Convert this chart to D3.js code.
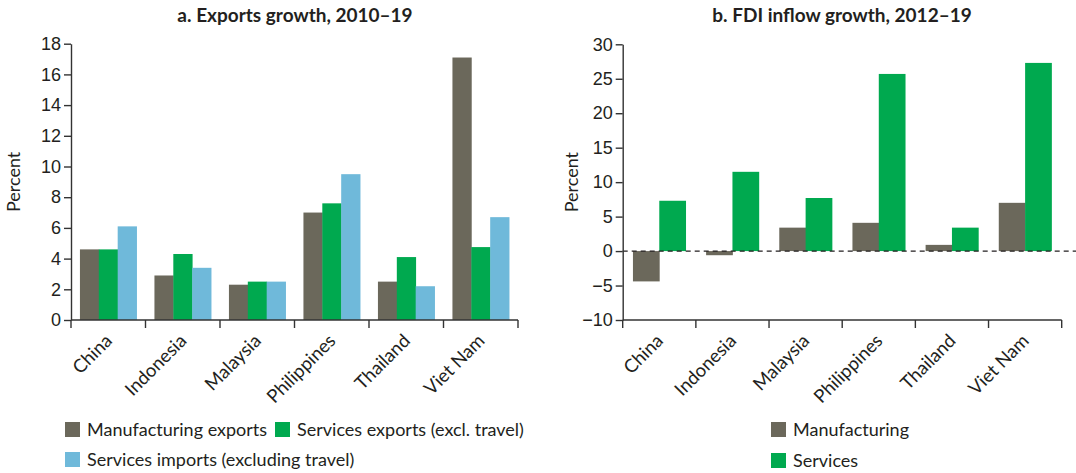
<!DOCTYPE html>
<html>
<head>
<meta charset="utf-8">
<script src="https://cdn.jsdelivr.net/npm/d3@7"></script>
<style>
  html, body { margin: 0; padding: 0; background: #fff; }
  svg { display: block; font-family: Lato, "Noto Sans", sans-serif; }
  .axis path, .axis line { stroke: #333; stroke-width: 1.4; }
  .axis text { fill: #231f20; font-size: 18px; }
  .axis text.cat { font-size: 18.5px; }
</style>
</head>
<body>
<svg id="chart" width="1076" height="473"></svg>
<script>
// Countries shown in both panels
const categories = ["China", "Indonesia", "Malaysia", "Philippines", "Thailand", "Viet Nam"];

// Panel a: exports growth, 2010–19 (percent)
const exportSeries = ["Manufacturing exports", "Services exports (excl. travel)", "Services imports (excluding travel)"];
const manufacturingExports = [4.6, 2.9, 2.3, 7.0, 2.5, 17.1];
const servicesExports = [4.6, 4.3, 2.5, 7.6, 4.1, 4.75];
const servicesImports = [6.1, 3.4, 2.5, 9.5, 2.2, 6.7];
const exportTicks = [0, 2, 4, 6, 8, 10, 12, 14, 16, 18];

// Panel b: FDI inflow growth, 2012–19 (percent)
const fdiSeries = ["Manufacturing", "Services"];
const fdiManufacturing = [-4.4, -0.6, 3.4, 4.1, 0.9, 7.0];
const fdiServices = [7.3, 11.5, 7.7, 25.7, 3.4, 27.3];
const fdiTicks = [-10, -5, 0, 5, 10, 15, 20, 25, 30];

const colors = { gray: "#6b685b", green: "#00a94f", blue: "#6fb9da" };

const svg = d3.select("#chart");

function panel(opts) {
  const g = svg.append("g");
  const x0 = d3.scaleBand().domain(categories).range([opts.left, opts.right]).padding(0);
  const x1 = d3.scaleBand().domain(opts.series)
    .range([x0.bandwidth() * opts.groupPad, x0.bandwidth() * (1 - opts.groupPad)]);
  const y = d3.scaleLinear().domain(opts.domain).range([opts.bottom, opts.top]);

  // bars
  opts.series.forEach((s, si) => {
    g.append("g").selectAll("rect")
      .data(opts.values[si])
      .join("rect")
      .attr("x", (d, i) => x0(categories[i]) + x1(s))
      .attr("width", x1.bandwidth() + 0.4)
      .attr("y", d => y(Math.max(0, d)))
      .attr("height", d => Math.abs(y(d) - y(0)))
      .attr("fill", opts.colors[si]);
  });

  // dashed zero line
  if (opts.domain[0] < 0) {
    g.append("line")
      .attr("x1", opts.left).attr("x2", 1076)
      .attr("y1", y(0)).attr("y2", y(0))
      .attr("stroke", "#231f20").attr("stroke-width", 1.3)
      .attr("stroke-dasharray", "5,4");
  }

  // y axis
  g.append("g").attr("class", "axis")
    .attr("transform", `translate(${opts.left},0)`)
    .call(d3.axisLeft(y).tickValues(opts.ticks).tickSize(7).tickSizeOuter(0).tickPadding(3)
      .tickFormat(d => d < 0 ? "\u2212" + Math.abs(d) : d));

  // x axis: line along the bottom, ticks at the band boundaries
  const xa = g.append("g").attr("class", "axis");
  xa.append("line")
    .attr("x1", opts.left).attr("x2", opts.right)
    .attr("y1", opts.bottom).attr("y2", opts.bottom);
  const bounds = categories.map(c => x0(c)).concat([x0.range()[1]]);
  xa.selectAll("line.tick").data(bounds).join("line")
    .attr("class", "tick")
    .attr("x1", d => d).attr("x2", d => d)
    .attr("y1", opts.bottom).attr("y2", opts.bottom + 8);
  xa.selectAll("text").data(categories).join("text")
    .attr("class", "cat")
    .attr("text-anchor", "end")
    .attr("transform", d => `translate(${x0(d) + x0.bandwidth() / 2 + 5},${opts.bottom + 22}) rotate(-45)`)
    .text(d => d);

  // y label
  g.append("text")
    .attr("transform", `translate(${opts.ylabelX},${(opts.top + opts.bottom) / 2}) rotate(-90)`)
    .attr("text-anchor", "middle")
    .attr("font-size", 18).attr("fill", "#231f20")
    .text("Percent");

  // title
  g.append("text")
    .attr("x", opts.titleX).attr("y", 22)
    .attr("text-anchor", "middle")
    .attr("font-size", 19).attr("font-weight", "bold").attr("fill", "#231f20")
    .text(opts.title);

  // legend
  opts.legend.forEach(item => {
    const lg = g.append("g").attr("transform", `translate(${item.x},${item.y})`);
    lg.append("rect").attr("width", 15).attr("height", 15).attr("fill", item.color);
    lg.append("text").attr("x", 22).attr("y", 14)
      .attr("font-size", 18).attr("fill", "#231f20").text(item.label);
  });
}

panel({
  left: 71, right: 518, top: 43.7, bottom: 320,
  domain: [0, 18], ticks: exportTicks, groupPad: 0.12,
  series: exportSeries,
  values: [manufacturingExports, servicesExports, servicesImports],
  colors: [colors.gray, colors.green, colors.blue],
  ylabelX: 20, titleX: 295, title: "a. Exports growth, 2010\u201319",
  legend: [
    { x: 65, y: 422, color: colors.gray, label: exportSeries[0] },
    { x: 275, y: 422, color: colors.green, label: exportSeries[1] },
    { x: 65, y: 452, color: colors.blue, label: exportSeries[2] }
  ]
});

panel({
  left: 622.7, right: 1061.7, top: 44.3, bottom: 320,
  domain: [-10, 30], ticks: fdiTicks, groupPad: 0.14,
  series: fdiSeries,
  values: [fdiManufacturing, fdiServices],
  colors: [colors.gray, colors.green],
  ylabelX: 578, titleX: 842, title: "b. FDI inflow growth, 2012\u201319",
  legend: [
    { x: 771, y: 422, color: colors.gray, label: fdiSeries[0] },
    { x: 771, y: 453, color: colors.green, label: fdiSeries[1] }
  ]
});
</script>
</body>
</html>
